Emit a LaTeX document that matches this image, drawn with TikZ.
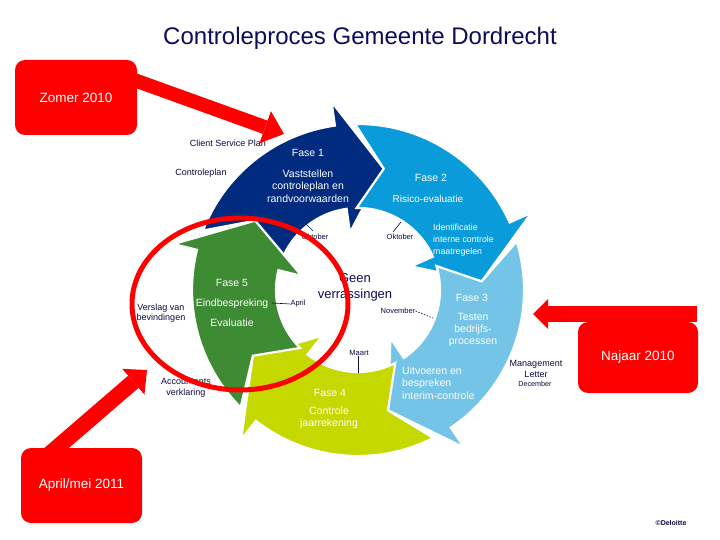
\documentclass[tikz,border=0pt]{standalone}
\usepackage{fontspec}
\setmainfont{Liberation Sans}
\usetikzlibrary{arrows.meta}
\definecolor{faseA}{HTML}{002B7F}
\definecolor{faseB}{HTML}{0A9BDA}
\definecolor{faseC}{HTML}{74C4E8}
\definecolor{faseD}{HTML}{C5D800}
\definecolor{faseE}{HTML}{3D8B33}
\definecolor{ink}{HTML}{0A0A40}
\definecolor{navy}{HTML}{0C0C5A}
\definecolor{alarm}{HTML}{FF0000}
\newcommand\cycseg[3]{%
  \path[fill=#1, draw=white, line width=2.2pt, line join=miter]
    (#2:166) arc[start angle=#2, end angle=#3, radius=166]
    -- (#3:190) -- ({#3+20}:124) -- (#3:58) -- (#3:82)
    arc[start angle=#3, end angle=#2, radius=82]
    -- ({#2+13}:124) -- cycle;}
\tikzset{
  lbl/.style={font=\fontsize{9}{10.5}\selectfont, text=ink, inner sep=0pt, align=center},
  small/.style={font=\fontsize{7.5}{8.5}\selectfont, text=ink, inner sep=0pt},
  segtxt/.style={font=\fontsize{10.5}{12.5}\selectfont, text=white, inner sep=0pt, align=center},
  redbox/.style={fill=alarm, rounded corners=10pt, inner sep=0pt, text=white,
    font=\fontsize{13.5}{16}\selectfont},
  tick/.style={ink, line width=0.6pt}
}
\begin{document}
\begin{tikzpicture}[x=1pt,y=-1pt]
\fill[white] (0,0) rectangle (720,540);
\useasboundingbox (0,0) rectangle (720,540);

\node[font=\fontsize{24}{27}\selectfont, text=navy, inner sep=0pt] (title) at (360,38) {Controleproces Gemeente Dordrecht};

\begin{scope}[shift={(358,290)}]
\cycseg{faseA}{201}{262}
\cycseg{faseB}{269}{336}
\cycseg{faseC}{343}{416}
\cycseg{faseD}{423}{488}
\cycseg{faseE}{495}{554}
\end{scope}

% segment texts
\node[segtxt] (f1) at (308,153) {Fase 1};
\node[segtxt] (f1t) at (308,186) {Vaststellen\\controleplan en\\randvoorwaarden};
\node[segtxt] (f2) at (431,178) {Fase 2};
\node[segtxt, font=\fontsize{10}{12}\selectfont] (f2t) at (428,199) {Risico-evaluatie};
\node[segtxt, font=\fontsize{8.8}{12}\selectfont, align=left, anchor=west] (f2b) at (433,240) {Identificatie\\interne controle\\maatregelen};
\node[segtxt] (f3) at (472,298) {Fase 3};
\node[segtxt, font=\fontsize{10.5}{12}\selectfont] (f3t) at (473,330) {Testen\\bedrijfs-\\processen};
\node[segtxt, align=left, anchor=west] (f3b) at (402,383) {Uitvoeren en\\bespreken\\interim-controle};
\node[segtxt] (f4) at (330,393) {Fase 4};
\node[segtxt, font=\fontsize{10.5}{11.5}\selectfont] (f4t) at (329,418) {Controle\\jaarrekening};
\node[segtxt] (f5) at (232,283) {Fase 5};
\node[segtxt] (f5t) at (232,304) {Eindbespreking};
\node[segtxt] (f5u) at (232,323) {Evaluatie};

% centre
\node[font=\fontsize{13}{16}\selectfont, text=navy, inner sep=0pt, align=center] (geen) at (355,287) {Geen\\verrassingen};

% outside labels
\node[lbl] (csp) at (228,143) {Client Service Plan};
\node[lbl] (cpl) at (201,173) {Controleplan};
\node[lbl] (vvb) at (161,313) {Verslag van\\bevindingen};
\node[lbl] (acc) at (186,388) {Accountants\\verklaring};
\node[lbl] (mgl) at (536,369) {Management\\Letter};
\node[small, font=\fontsize{7.2}{8}\selectfont] (dec) at (535,384) {December};

% month ticks
\node[small] (okt1) at (315,237) {Oktober};
\coordinate (okt1a) at (305,223);
\coordinate (okt1b) at (313,231);
\draw[tick] (okt1a) -- (okt1b);
\node[small] (okt2) at (400,237) {Oktober};
\coordinate (okt2a) at (401,222);
\coordinate (okt2b) at (393,232);
\draw[tick] (okt2a) -- (okt2b);
\node[small] (apr) at (298,304) {April};
\coordinate (aprA) at (272,303);
\draw[tick] (aprA) -- (apr.west);
\node[small] (mrt) at (359,353) {Maart};
\coordinate (mrtA) at (358,373);
\draw[tick] (mrt.south -| mrtA) -- (mrtA);
\node[small] (nov) at (398,311) {November};
\coordinate (novA) at (433,318);
\draw[tick, dashed, dash pattern=on 1.5pt off 1.5pt] (nov.east) -- (novA);

% red ellipse
\draw[alarm, line width=5pt] (240,304) ellipse[x radius=108, y radius=86];

% red arrows
\coordinate (zS) at (112,72);
\coordinate (zT) at (284,134);
\draw[alarm, line width=14pt, -{Triangle[length=20pt, width=34pt, line width=0pt]}] (zS) -- (zT);
\coordinate (nS) at (697,314);
\coordinate (nT) at (533,314);
\draw[alarm, line width=16pt, -{Triangle[length=15pt, width=30pt, line width=0pt]}] (nS) -- (nT);
\coordinate (aS) at (45,458);
\coordinate (aT) at (147,370);
\draw[alarm, line width=16pt, -{Triangle[length=18pt, width=34pt, line width=0pt]}] (aS) -- (aT);

% red boxes
\node[redbox, minimum width=122pt, minimum height=75pt] (zomer) at (76,97.5) {Zomer 2010};
\node[redbox, minimum width=120pt, minimum height=71pt] (najaar) at (638,357.5) {Najaar 2010};
\node[redbox, minimum width=121pt, minimum height=75pt] (aprmei) at (81.5,485.5) {April/mei 2011};

\node[small, font=\bfseries\fontsize{7}{8}\selectfont] (del) at (671,523) {©Deloitte};
\end{tikzpicture}
\end{document}
